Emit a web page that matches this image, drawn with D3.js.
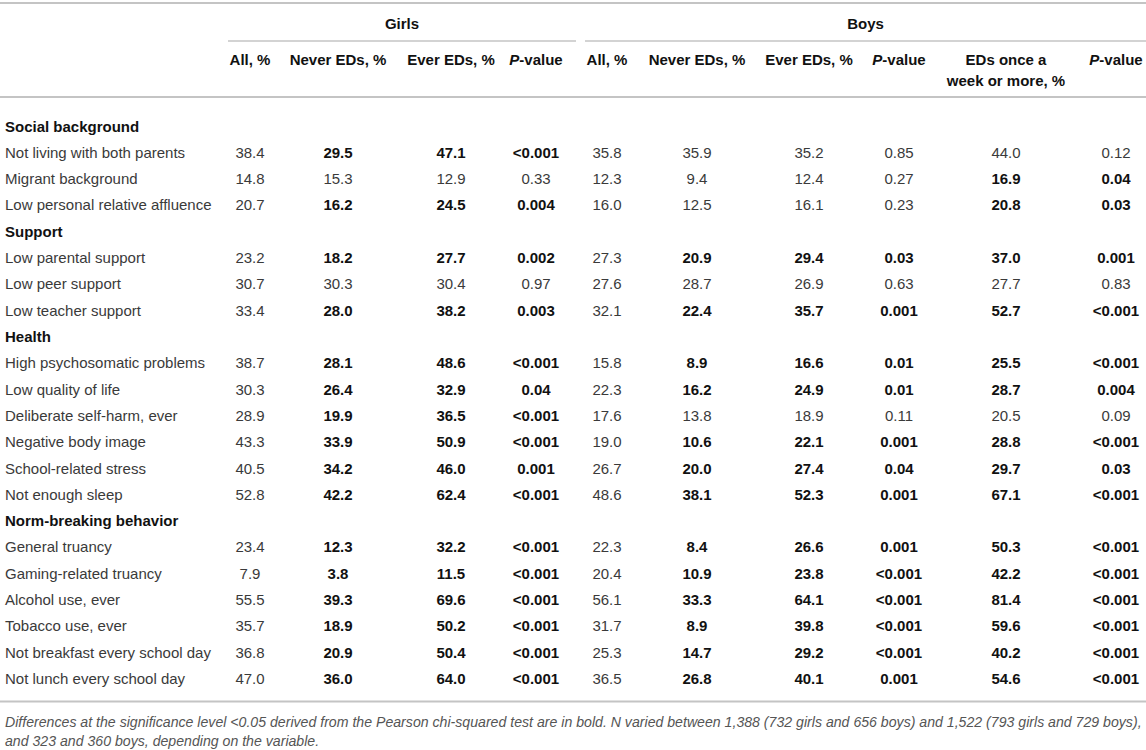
<!DOCTYPE html>
<html>
<head>
<meta charset="utf-8">
<script src="https://cdn.jsdelivr.net/npm/d3@7/dist/d3.min.js"></script>
<style>
  body { margin: 0; background: #fff; }
  svg text { font-family: "Liberation Sans", Arial, Helvetica, sans-serif; }
</style>
</head>
<body>
<div id="chart"></div>
<script>
// ---- data ----
const sectionNames = ["Social background", "Support", "Health", "Norm-breaking behavior"];
const rowLabels = [
    "Not living with both parents", "Migrant background", "Low personal relative affluence",
    "Low parental support", "Low peer support", "Low teacher support",
    "High psychosomatic problems", "Low quality of life", "Deliberate self-harm, ever",
    "Negative body image", "School-related stress", "Not enough sleep",
    "General truancy", "Gaming-related truancy", "Alcohol use, ever",
    "Tobacco use, ever", "Not breakfast every school day", "Not lunch every school day"
];
const rowSection = [0, 0, 0, 1, 1, 1, 2, 2, 2, 2, 2, 2, 3, 3, 3, 3, 3, 3];

const girlsAll   = [38.4, 14.8, 20.7, 23.2, 30.7, 33.4, 38.7, 30.3, 28.9, 43.3, 40.5, 52.8, 23.4, 7.9, 55.5, 35.7, 36.8, 47.0];
const girlsNever = [29.5, 15.3, 16.2, 18.2, 30.3, 28.0, 28.1, 26.4, 19.9, 33.9, 34.2, 42.2, 12.3, 3.8, 39.3, 18.9, 20.9, 36.0];
const girlsEver  = [47.1, 12.9, 24.5, 27.7, 30.4, 38.2, 48.6, 32.9, 36.5, 50.9, 46.0, 62.4, 32.2, 11.5, 69.6, 50.2, 50.4, 64.0];
const girlsP     = ["<0.001", "0.33", "0.004", "0.002", "0.97", "0.003", "<0.001", "0.04", "<0.001", "<0.001", "0.001", "<0.001",
                    "<0.001", "<0.001", "<0.001", "<0.001", "<0.001", "<0.001"];

const boysAll    = [35.8, 12.3, 16.0, 27.3, 27.6, 32.1, 15.8, 22.3, 17.6, 19.0, 26.7, 48.6, 22.3, 20.4, 56.1, 31.7, 25.3, 36.5];
const boysNever  = [35.9, 9.4, 12.5, 20.9, 28.7, 22.4, 8.9, 16.2, 13.8, 10.6, 20.0, 38.1, 8.4, 10.9, 33.3, 8.9, 14.7, 26.8];
const boysEver   = [35.2, 12.4, 16.1, 29.4, 26.9, 35.7, 16.6, 24.9, 18.9, 22.1, 27.4, 52.3, 26.6, 23.8, 64.1, 39.8, 29.2, 40.1];
const boysP      = ["0.85", "0.27", "0.23", "0.03", "0.63", "0.001", "0.01", "0.01", "0.11", "0.001", "0.04", "0.001",
                    "0.001", "<0.001", "<0.001", "<0.001", "<0.001", "0.001"];
const boysWeekly = [44.0, 16.9, 20.8, 37.0, 27.7, 52.7, 25.5, 28.7, 20.5, 28.8, 29.7, 67.1, 50.3, 42.2, 81.4, 59.6, 40.2, 54.6];
const boysWeeklyP = ["0.12", "0.04", "0.03", "0.001", "0.83", "<0.001", "<0.001", "0.004", "0.09", "<0.001", "0.03", "<0.001",
                     "<0.001", "<0.001", "<0.001", "<0.001", "<0.001", "<0.001"];

const groupNames = ["Girls", "Boys"];
const columnHeaders = [
    ["All, %"], ["Never EDs, %"], ["Ever EDs, %"], ["P-value"],
    ["All, %"], ["Never EDs, %"], ["Ever EDs, %"], ["P-value"],
    ["EDs once a", "week or more, %"], ["P-value"]
];
const footnoteLines = [
    "Differences at the significance level <0.05 derived from the Pearson chi-squared test are in bold. N varied between 1,388 (732 girls and 656 boys) and 1,522 (793 girls and 729 boys),",
    "and 323 and 360 boys, depending on the variable."
];

// ---- layout ----
const width = 1146, height = 750;
const colCenter = [250, 338, 451, 536, 607, 697, 809, 899, 1006, 1116];
const groupSpan = [[228, 576], [585, 1146]];
const lineColor = "#c4c4c4";
const textColor = "#3a3a3a";
const boldColor = "#111";

const sig = p => (p.startsWith("<") ? 0.0009 : +p) < 0.05;
const fmt = v => v.toFixed(1);

// one entry per body line, section titles included
let lines = [];
sectionNames.forEach((s, si) => {
    lines.push({ type: "section", label: s });
    rowLabels.forEach((lab, i) => {
        if (rowSection[i] !== si) return;
        const gs = sig(girlsP[i]), bs = sig(boysP[i]), ws = sig(boysWeeklyP[i]);
        lines.push({
            type: "row", label: lab,
            cells: [
                { t: fmt(girlsAll[i]), b: false },
                { t: fmt(girlsNever[i]), b: gs },
                { t: fmt(girlsEver[i]), b: gs },
                { t: girlsP[i], b: gs },
                { t: fmt(boysAll[i]), b: false },
                { t: fmt(boysNever[i]), b: bs },
                { t: fmt(boysEver[i]), b: bs },
                { t: boysP[i], b: bs },
                { t: fmt(boysWeekly[i]), b: ws },
                { t: boysWeeklyP[i], b: ws }
            ]
        });
    });
});

const y = d3.scaleLinear()
    .domain([0, lines.length - 1])
    .range([131.5, 684]);

const svg = d3.select("#chart").append("svg")
    .attr("width", width)
    .attr("height", height);

// rules
const hline = (y0, x0, x1, w) => svg.append("line")
    .attr("x1", x0).attr("x2", x1)
    .attr("y1", y0).attr("y2", y0)
    .attr("stroke", lineColor)
    .attr("stroke-width", w);

hline(3, 0, width, 2);
hline(97, 0, width, 2);
hline(701.5, 0, width, 2);
groupSpan.forEach(s => hline(41, s[0], s[1], 1.5));

// group titles
svg.selectAll(".group-title")
    .data(groupNames)
    .join("text")
    .attr("class", "group-title")
    .attr("x", (d, i) => (groupSpan[i][0] + groupSpan[i][1]) / 2)
    .attr("y", 28.5)
    .attr("text-anchor", "middle")
    .style("font-size", "15px")
    .style("font-weight", "bold")
    .style("fill", boldColor)
    .text(d => d);

// column headers
const head = svg.selectAll(".col-head")
    .data(columnHeaders)
    .join("text")
    .attr("class", "col-head")
    .attr("text-anchor", "middle")
    .style("font-size", "15px")
    .style("font-weight", "bold")
    .style("fill", boldColor);

head.each(function(d, i) {
    const t = d3.select(this);
    d.forEach((ln, k) => {
        const ts = t.append("tspan")
            .attr("x", colCenter[i])
            .attr("y", 65 + k * 21);
        if (ln === "P-value") {
            ts.append("tspan").style("font-style", "italic").text("P");
            ts.append("tspan").text("-value");
        } else {
            ts.text(ln);
        }
    });
});

// body
const rowG = svg.selectAll(".line")
    .data(lines)
    .join("g")
    .attr("class", "line")
    .attr("transform", (d, i) => `translate(0, ${y(i)})`);

rowG.append("text")
    .attr("x", 5)
    .style("font-size", "15px")
    .style("font-weight", d => d.type === "section" ? "bold" : "normal")
    .style("fill", d => d.type === "section" ? boldColor : textColor)
    .text(d => d.label);

rowG.filter(d => d.type === "row")
    .selectAll(".cell")
    .data(d => d.cells)
    .join("text")
    .attr("class", "cell")
    .attr("x", (d, i) => colCenter[i])
    .attr("text-anchor", "middle")
    .style("font-size", "15px")
    .style("font-weight", d => d.b ? "bold" : "normal")
    .style("fill", d => d.b ? boldColor : textColor)
    .text(d => d.t);

// footnote, sized so the first line runs to the right edge like the original
const foot = svg.selectAll(".foot")
    .data(footnoteLines)
    .join("text")
    .attr("class", "foot")
    .attr("x", 5)
    .attr("y", (d, i) => 727 + i * 19)
    .style("font-size", "13px")
    .style("font-style", "italic")
    .style("fill", "#555")
    .text(d => d);

const firstLen = foot.node().getComputedTextLength();
const footSize = Math.min(15, 13 * 1137 / firstLen);
foot.style("font-size", footSize + "px");
</script>
</body>
</html>
